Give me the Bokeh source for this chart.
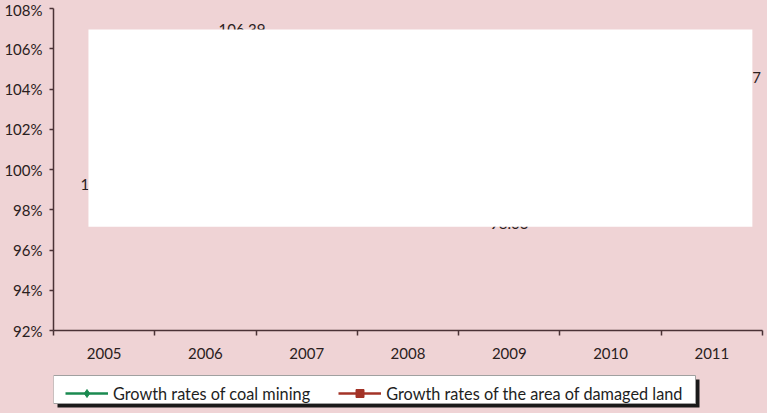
from bokeh.plotting import figure
from bokeh.layouts import column
from bokeh.models import FixedTicker, BoxAnnotation, Legend, LegendItem, Range1d
from bokeh.core.properties import value
from bokeh.embed import file_html
from bokeh.resources import INLINE

# ---- data ----
years = ["2005", "2006", "2007", "2008", "2009", "2010", "2011"]
coal_mining = [100.00, 106.39, 104.21, 101.87, 98.03, 102.65, 104.57]
damaged_land = [101.20, 102.35, 101.60, 103.10, 100.85, 101.95, 102.70]
y_ticks = [92, 94, 96, 98, 100, 102, 104, 106, 108]
y_tick_labels = ["92%", "94%", "96%", "98%", "100%", "102%", "104%", "106%", "108%"]
labeled_years = ["2005", "2006", "2009", "2011"]
series_names = ["Growth rates of coal mining", "Growth rates of the area of damaged land"]

# ---- style ----
FONT = "Lato"
BG = "#EFD3D5"
AXIS = "#4A3236"
TEXT = "#2A2020"
GREEN = "#1A8A50"
RED = "#A33327"
W, H_MAIN, H_LEG = 767, 365, 48
BL, BR = 53, 5   # frame borders left/right

x_pos = [i + 0.5 for i in range(len(years))]

p = figure(width=W, height=H_MAIN,
           x_range=Range1d(0, len(years)), y_range=Range1d(y_ticks[0], y_ticks[-1]),
           output_backend="svg", toolbar_location=None,
           background_fill_color=BG, border_fill_color=BG,
           min_border_left=BL, min_border_right=BR, min_border_top=8, min_border_bottom=35)
p.outline_line_color = None
p.xgrid.visible = False
p.ygrid.visible = False

# y axis
ya = p.yaxis[0]
ya.ticker = FixedTicker(ticks=y_ticks)
ya.major_label_overrides = {t: l for t, l in zip(y_ticks, y_tick_labels)}
ya.major_tick_out = 4
ya.major_tick_in = 0
ya.minor_tick_out = 0
ya.minor_tick_in = 0
ya.axis_line_color = AXIS
ya.axis_line_width = 1.5
ya.major_tick_line_color = AXIS
ya.major_tick_line_width = 1.5
ya.major_label_text_font = FONT
ya.major_label_text_font_size = "15px"
ya.major_label_text_color = TEXT
ya.major_label_standoff = 7

# x axis: labels at category centres, ticks at category boundaries
xa = p.xaxis[0]
xa.ticker = FixedTicker(ticks=x_pos, minor_ticks=list(range(len(years) + 1)))
xa.major_label_overrides = {x: y for x, y in zip(x_pos, years)}
xa.major_tick_out = 0
xa.major_tick_in = 0
xa.minor_tick_out = 5
xa.minor_tick_in = 0
xa.minor_tick_line_color = AXIS
xa.minor_tick_line_width = 1.5
xa.axis_line_color = AXIS
xa.axis_line_width = 1.5
xa.major_label_text_font = FONT
xa.major_label_text_font_size = "15px"
xa.major_label_text_color = TEXT
xa.major_label_standoff = 12

# series
p.line(x_pos, coal_mining, line_color=GREEN, line_width=2.5)
p.scatter(x_pos, coal_mining, marker="diamond", size=10, color=GREEN)
p.line(x_pos, damaged_land, line_color=RED, line_width=2.5)
p.scatter(x_pos, damaged_land, marker="square", size=8, color=RED)

# data labels
label_style = {
    "2005": ("center", "top", 0, 9),
    "2006": ("left", "alphabetic", 13, -11),
    "2009": ("center", "top", 0, 9),
    "2011": ("left", "middle", 2, 0),
}
for yr in labeled_years:
    i = years.index(yr)
    align, base, dx, dy = label_style[yr]
    p.text(x=[x_pos[i]], y=[coal_mining[i]], text=[f"{coal_mining[i]:.2f}"],
           text_font=value(FONT), text_font_size="15px", text_color=TEXT,
           text_align=align, text_baseline=base, x_offset=dx, y_offset=dy)

# white panel covering the middle of the plot
p.add_layout(BoxAnnotation(left=0.345, right=6.90, bottom=97.15, top=106.955,
                           fill_color="white", fill_alpha=1.0, line_color=None))

# ---- legend strip (x in page pixels, y in pixels from strip bottom) ----
q = figure(width=W, height=H_LEG, x_range=Range1d(BL, W - BR), y_range=Range1d(0, H_LEG),
           output_backend="svg", toolbar_location=None,
           x_axis_location=None, y_axis_location=None,
           background_fill_color=BG, border_fill_color=BG,
           min_border_left=BL, min_border_right=BR, min_border_top=0, min_border_bottom=0)
q.outline_line_color = None
q.xgrid.visible = False
q.ygrid.visible = False

BOX_L, BOX_R, BOX_B, BOX_T, SH = 53, 695, 10, 38, 4
q.quad(left=[BOX_L + SH], right=[BOX_R + SH], bottom=[BOX_B - SH], top=[BOX_T - SH],
       fill_color="#1A1A1A", line_color=None)
q.quad(left=[BOX_L], right=[BOX_R], bottom=[BOX_B], top=[BOX_T],
       fill_color="white", line_color="#A0A0A0", line_width=1)

r1 = q.line([0, 10], [-20, -20], line_color=GREEN, line_width=2.5)
m1 = q.scatter([5], [-20], marker="diamond", size=10, color=GREEN)
r2 = q.line([0, 10], [-20, -20], line_color=RED, line_width=2.5)
m2 = q.scatter([5], [-20], marker="square", size=8, color=RED)

legend = Legend(items=[LegendItem(label=series_names[0], renderers=[r1, m1]),
                       LegendItem(label=series_names[1], renderers=[r2, m2])],
                location=(12, BOX_B), orientation="horizontal",
                padding=4, spacing=28, margin=0, glyph_width=43, glyph_height=20,
                label_height=20, label_standoff=5,
                label_text_font=FONT, label_text_font_size="16.3px", label_text_color="#1E1E1E",
                background_fill_alpha=0.0, border_line_color=None)
q.add_layout(legend)

layout = column(p, q, spacing=0, styles={"background-color": BG})
open("out.html", "w").write(file_html(layout, INLINE))
